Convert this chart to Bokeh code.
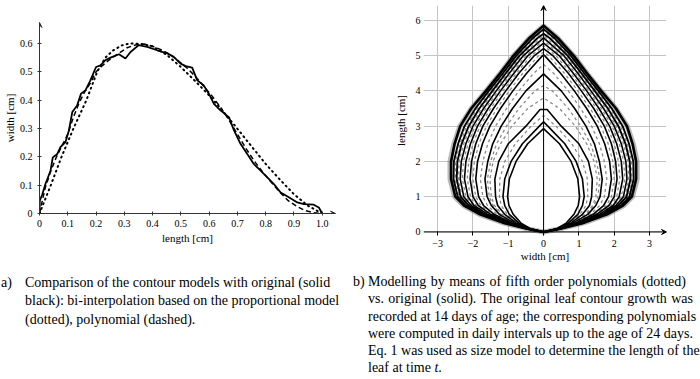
from bokeh.plotting import figure
from bokeh.layouts import row, column
from bokeh.models import Div, Arrow, VeeHead, FixedTicker
from bokeh.embed import file_html
from bokeh.resources import INLINE

# ---------------- Panel a) data ----------------
orig_len = [0, 0.001, 0.01, 0.021, 0.039, 0.047, 0.063, 0.074, 0.092, 0.104, 0.116, 0.133,
            0.147, 0.163, 0.18, 0.2, 0.216, 0.233, 0.251, 0.281, 0.304, 0.322, 0.351, 0.381,
            0.416, 0.452, 0.475, 0.499, 0.517, 0.54, 0.558, 0.581, 0.599, 0.617, 0.64, 0.67,
            0.688, 0.711, 0.735, 0.758, 0.782, 0.805, 0.829, 0.853, 0.882, 0.912, 0.935, 0.97,
            0.988, 1.0]
orig_wid = [0, 0.045, 0.068, 0.104, 0.151, 0.198, 0.21, 0.234, 0.252, 0.293, 0.358, 0.381,
            0.423, 0.435, 0.47, 0.517, 0.523, 0.541, 0.55, 0.562, 0.547, 0.57, 0.594, 0.588,
            0.576, 0.565, 0.553, 0.529, 0.52, 0.515, 0.47, 0.452, 0.423, 0.387, 0.364, 0.34,
            0.293, 0.246, 0.21, 0.175, 0.151, 0.128, 0.104, 0.074, 0.057, 0.039, 0.033, 0.031,
            0.021, 0.0]
poly_len = [0, 0.02, 0.04, 0.06, 0.08, 0.1, 0.12, 0.14, 0.16, 0.18, 0.2, 0.22, 0.25, 0.28,
            0.31, 0.34, 0.37, 0.4, 0.43, 0.46, 0.49, 0.52, 0.55, 0.58, 0.61, 0.64, 0.67, 0.7,
            0.73, 0.76, 0.79, 0.82, 0.85, 0.88, 0.91, 0.94, 0.97, 1.0]
poly_wid = [0, 0.09, 0.15, 0.2, 0.24, 0.28, 0.34, 0.39, 0.43, 0.46, 0.5, 0.52, 0.545, 0.565,
            0.585, 0.595, 0.598, 0.59, 0.578, 0.562, 0.54, 0.515, 0.485, 0.45, 0.415, 0.375,
            0.33, 0.28, 0.23, 0.185, 0.145, 0.11, 0.075, 0.045, 0.025, 0.01, 0.003, 0.0]
prop_len = [0, 0.04, 0.078, 0.12, 0.166, 0.204, 0.233, 0.26, 0.29, 0.32, 0.36, 0.4, 0.45,
            0.5, 0.55, 0.6, 0.65, 0.7, 0.75, 0.8, 0.85, 0.9, 0.95, 1.0]
prop_wid = [0, 0.1, 0.2, 0.3, 0.4, 0.5, 0.55, 0.575, 0.593, 0.6, 0.598, 0.59, 0.56, 0.517,
            0.468, 0.417, 0.36, 0.299, 0.237, 0.175, 0.12, 0.068, 0.027, 0.0]
a_xticks = [0, 0.1, 0.2, 0.3, 0.4, 0.5, 0.6, 0.7, 0.8, 0.9, 1.0]
a_xlabels = ["0", "0.1", "0.2", "0.3", "0.4", "0.5", "0.6", "0.7", "0.8", "0.9", "1.0"]
a_yticks = [0, 0.1, 0.2, 0.3, 0.4, 0.5, 0.6]
a_ylabels = ["0", "0.1", "0.2", "0.3", "0.4", "0.5", "0.6"]

# ---------------- Panel b) data ----------------
# half-widths (cm) of each contour at these heights (cm); contours are mirrored about x = 0
heights = [0, 0.1, 0.25, 0.5, 0.75, 1.0, 1.5, 2.0, 2.5, 3.0, 3.5, 4.0, 4.5, 5.0, 5.5]
solid_tips = [2.93, 3.12, 3.47, 4.48, 5.02, 5.2, 5.35, 5.5, 5.62, 5.75, 5.85]
solid_tip_w = [0, 0, 0.1, 0, 0, 0, 0, 0, 0, 0, 0]
solid_w = [
    [0, 0.38, 0.64, 0.86, 0.98, 1.02, 0.97, 0.78, 0.45],
    [0, 0.4, 0.7, 0.97, 1.1, 1.15, 1.1, 0.92, 0.6, 0.12],
    [0, 0.42, 0.77, 1.1, 1.3, 1.36, 1.38, 1.27, 1.0, 0.5],
    [0, 0.45, 0.83, 1.25, 1.48, 1.6, 1.66, 1.58, 1.44, 1.2, 0.88, 0.5],
    [0, 0.47, 0.9, 1.4, 1.7, 1.84, 1.92, 1.87, 1.73, 1.52, 1.22, 0.87, 0.48, 0.03],
    [0, 0.48, 0.95, 1.5, 1.85, 2.0, 2.08, 2.04, 1.92, 1.72, 1.42, 1.07, 0.7, 0.26],
    [0, 0.49, 1.0, 1.58, 1.97, 2.14, 2.24, 2.2, 2.07, 1.87, 1.57, 1.22, 0.84, 0.44],
    [0, 0.5, 1.03, 1.65, 2.05, 2.26, 2.36, 2.33, 2.2, 2.0, 1.7, 1.34, 0.97, 0.57],
    [0, 0.5, 1.06, 1.7, 2.12, 2.35, 2.46, 2.44, 2.32, 2.12, 1.82, 1.45, 1.07, 0.68, 0.17],
    [0, 0.5, 1.08, 1.75, 2.2, 2.43, 2.55, 2.54, 2.42, 2.24, 1.93, 1.55, 1.15, 0.77, 0.3],
    [0, 0.5, 1.1, 1.8, 2.25, 2.5, 2.62, 2.62, 2.52, 2.36, 2.05, 1.63, 1.23, 0.85, 0.4],
]
dashed_tips = [3.3, 3.8, 4.15, 4.75, 5.1, 5.28, 5.43, 5.56, 5.7]
dashed_w = [
    [0, 0.4, 0.72, 1.03, 1.2, 1.25, 1.24, 1.1, 0.8, 0.35],
    [0, 0.43, 0.78, 1.17, 1.39, 1.48, 1.52, 1.43, 1.22, 0.9, 0.45],
    [0, 0.44, 0.8, 1.21, 1.43, 1.54, 1.59, 1.5, 1.33, 1.05, 0.7, 0.25],
    [0, 0.46, 0.86, 1.32, 1.59, 1.72, 1.79, 1.72, 1.58, 1.36, 1.05, 0.7, 0.28],
    [0, 0.47, 0.92, 1.45, 1.78, 1.92, 2.0, 1.96, 1.83, 1.62, 1.32, 0.97, 0.59, 0.14],
    [0, 0.48, 0.97, 1.54, 1.91, 2.07, 2.16, 2.12, 2.0, 1.8, 1.5, 1.15, 0.77, 0.35],
    [0, 0.49, 1.01, 1.62, 2.01, 2.2, 2.3, 2.27, 2.14, 1.94, 1.64, 1.28, 0.9, 0.5],
    [0, 0.5, 1.05, 1.68, 2.09, 2.31, 2.41, 2.39, 2.26, 2.06, 1.76, 1.4, 1.02, 0.62, 0.08],
    [0, 0.5, 1.07, 1.72, 2.16, 2.39, 2.5, 2.49, 2.37, 2.18, 1.88, 1.5, 1.11, 0.72, 0.25],
]
halo_tip = 5.84
halo_w = [0, 0.52, 1.12, 1.82, 2.27, 2.52, 2.65, 2.65, 2.54, 2.37, 2.05, 1.63, 1.23, 0.85, 0.4]
b_xticks = [-3, -2, -1, 0, 1, 2, 3]
b_xlabels = ["\u22123", "\u22122", "\u22121", "0", "1", "2", "3"]
b_yticks = [0, 1, 2, 3, 4, 5, 6]

FONT = "Liberation Serif"


def closed(ws, tip, tipw=0.0):
    n = len(ws)
    xs = list(ws) + [tipw, -tipw] + [-w for w in reversed(ws)]
    ys = list(heights[:n]) + [tip, tip] + list(reversed(heights[:n]))
    return xs, ys


def style_axis(ax):
    ax.major_label_text_font = FONT
    ax.major_label_text_font_size = "10px"
    ax.major_label_text_color = "black"
    ax.axis_label_text_font = FONT
    ax.axis_label_text_font_size = "11px"
    ax.axis_label_text_font_style = "normal"
    ax.axis_label_text_color = "black"
    ax.minor_tick_line_color = None


# ---------------- Panel a) ----------------
pa = figure(width=350, height=247, x_range=(0, 1.047), y_range=(0, 0.674),
            output_backend="svg", toolbar_location=None,
            min_border_left=39, min_border_right=15, min_border_top=22, min_border_bottom=34)
pa.outline_line_color = None
pa.grid.visible = False
pa.background_fill_color = "white"
pa.border_fill_color = "white"

pa.line(prop_len, prop_wid, line_color="black", line_width=2, line_dash="1 4", line_cap="round")
pa.line(poly_len, poly_wid, line_color="black", line_width=1.5, line_dash="5 3")
pa.line(orig_len, orig_wid, line_color="black", line_width=1.8)

pa.xaxis.ticker = FixedTicker(ticks=a_xticks)
pa.xaxis.major_label_overrides = dict(zip(a_xticks, a_xlabels))
pa.yaxis.ticker = FixedTicker(ticks=a_yticks)
pa.yaxis.major_label_overrides = dict(zip(a_yticks, a_ylabels))
pa.xaxis.axis_label = "length [cm]"
pa.yaxis.axis_label = "width [cm]"
for ax in (pa.xaxis[0], pa.yaxis[0]):
    style_axis(ax)
    ax.axis_line_color = "#333333"
    ax.major_tick_line_color = "#333333"
    ax.major_tick_in = 2
    ax.major_tick_out = 2
pa.xaxis.major_label_standoff = 4
pa.xaxis.axis_label_standoff = 2
pa.yaxis.major_label_standoff = 5
pa.yaxis.axis_label_standoff = 1
pa.add_layout(Arrow(end=VeeHead(size=5, line_width=1, line_color="#333333"),
                    x_start=1.03, y_start=0, x_end=1.047, y_end=0,
                    line_color="#333333", line_width=1))
pa.add_layout(Arrow(end=VeeHead(size=5, line_width=1, line_color="#333333"),
                    x_start=0, y_start=0.66, x_end=0, y_end=0.674,
                    line_color="#333333", line_width=1))

# ---------------- Panel b) ----------------
pb = figure(width=350, height=264, x_range=(-3.4, 3.48), y_range=(-0.1, 6.42),
            output_backend="svg", toolbar_location=None,
            min_border_left=73, min_border_right=34, min_border_top=5, min_border_bottom=29)
pb.outline_line_color = None
pb.background_fill_color = "white"
pb.border_fill_color = "white"
pb.xgrid.ticker = FixedTicker(ticks=b_xticks)
pb.ygrid.ticker = FixedTicker(ticks=b_yticks)
pb.grid.grid_line_color = "#c4c4c4"
pb.grid.grid_line_width = 1

hx, hy = closed(halo_w, halo_tip)
pb.line(hx, hy, line_color="#808080", line_width=5, line_alpha=0.55)
for ws, tip in zip(dashed_w, dashed_tips):
    xs, ys = closed(ws, tip)
    pb.line(xs, ys, line_color="#8a8a8a", line_width=1.3, line_dash="3 3")
for i, (ws, tip, tw) in enumerate(zip(solid_w, solid_tips, solid_tip_w)):
    xs, ys = closed(ws, tip, tw)
    lw = 1.6 if i < 8 else (1.9 if i < 10 else 2.6)
    pb.line(xs, ys, line_color="black", line_width=lw)

pb.add_layout(Arrow(end=VeeHead(size=5, line_width=1), x_start=-3.4, y_start=0,
                    x_end=3.48, y_end=0, line_color="black", line_width=1))
pb.add_layout(Arrow(end=VeeHead(size=5, line_width=1), x_start=0, y_start=-0.1,
                    x_end=0, y_end=6.42, line_color="black", line_width=1))

pb.xaxis.ticker = FixedTicker(ticks=b_xticks)
pb.xaxis.major_label_overrides = dict(zip(b_xticks, b_xlabels))
pb.yaxis.ticker = FixedTicker(ticks=b_yticks)
pb.xaxis.axis_label = "width [cm]"
pb.yaxis.axis_label = "length [cm]"
for ax in (pb.xaxis[0], pb.yaxis[0]):
    style_axis(ax)
    ax.axis_line_color = None
pb.xaxis.major_tick_in = 4
pb.xaxis.major_tick_out = 0
pb.xaxis.major_tick_line_color = "black"
pb.xaxis.major_label_standoff = 4
pb.xaxis.axis_label_standoff = 0
pb.yaxis.major_tick_line_color = None
pb.yaxis.major_tick_in = 0
pb.yaxis.major_tick_out = 0
pb.yaxis.major_label_standoff = 3
pb.yaxis.axis_label_standoff = 6

# ---------------- Captions ----------------
cap_a_lines = ["Comparison of the contour models with original (solid",
               "black): bi-interpolation based on the proportional model",
               "(dotted), polynomial (dashed)."]
cap_b_lines = ["Modelling by means of fifth order polynomials (dotted)",
               "vs. original (solid). The original leaf contour growth was",
               "recorded at 14 days of age; the corresponding polynomials",
               "were computed in daily intervals up to the age of 24 days.",
               "Eq. 1 was used as size model to determine the length of the",
               "leaf at time <i>t</i>."]
cap_b_widths = [318, 325, 327, 325, 329]

cap_a = ("<div style=\"font-family:'Liberation Serif',serif;font-size:14px;line-height:18.3px;"
         "color:#000;display:flex;white-space:nowrap;padding-left:1px\">"
         "<div style=\"width:24px;flex:none\">a)</div><div>"
         + "<br>".join(cap_a_lines) + "</div></div>")

body_b = ""
for k, ln in enumerate(cap_b_lines):
    if k < len(cap_b_widths):
        body_b += ("<div style=\"text-align:justify;text-align-last:justify;width:%dpx\">%s</div>"
                   % (cap_b_widths[k], ln))
    else:
        body_b += "<div>%s</div>" % ln
cap_b = ("<div style=\"font-family:'Liberation Serif',serif;font-size:14px;line-height:17.3px;"
         "color:#000;display:flex;white-space:nowrap;padding-left:3px\">"
         "<div style=\"width:15px;flex:none\">b)</div><div>" + body_b + "</div></div>")

div_a = Div(text=cap_a, width=350, height=56, margin=(27, 0, 0, 0))
div_b = Div(text=cap_b, width=350, height=105, margin=(9, 0, 0, 0))

layout = row(column(pa, div_a), column(pb, div_b))

open("out.html", "w").write(file_html(layout, INLINE))
